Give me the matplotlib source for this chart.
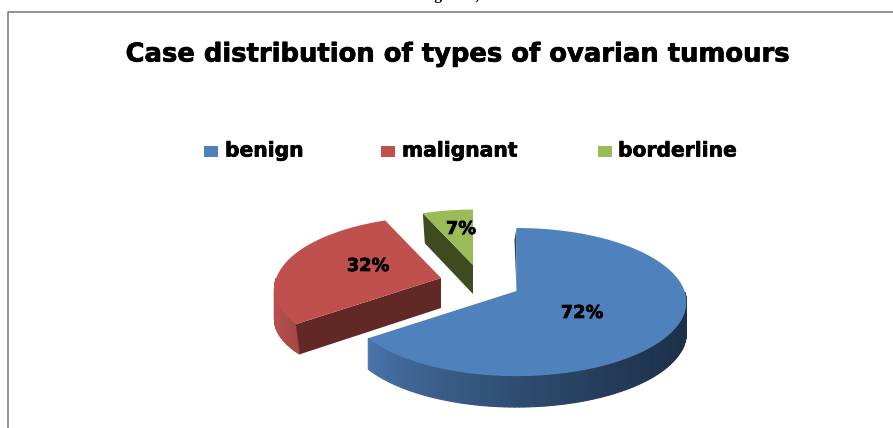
import numpy as np
import matplotlib
matplotlib.use("Agg")
import matplotlib.pyplot as plt
from matplotlib.patches import Polygon, Rectangle
from matplotlib.colors import to_rgb
import matplotlib.patheffects as pe

title = "Case distribution of types of ovarian tumours"
categories = ["benign", "malignant", "borderline"]
values = [72, 32, 7]
labels = ["72%", "32%", "7%"]

colors = ["#4f81bd", "#c0504d", "#9bbb59"]
cut_colors = ["#24405f", "#622826", "#3e4a20"]
side_from = ["#4a76ac", "#b5504e", "#3e4a20"]
side_to = ["#1c3048", "#a54744", "#3e4a20"]
apex = [(516.5, 291), (441, 278), (473, 265)]
scale = [1.0, 0.98, 0.88]
depth = [31, 30, 29]
label_pos = [(582, 313), (368, 266), (461, 229)]
legend_x = [204, 381, 598]
legend_text_x = [225, 402, 618]

RX, RY, P = 168, 72.4, 0.149

fig = plt.figure(figsize=(8.93, 4.28), dpi=100)
ax = fig.add_axes([0, 0, 1, 1])
ax.set_xlim(0, 893)
ax.set_ylim(428, 0)
ax.axis("off")

heavy = [pe.withStroke(linewidth=0.5, foreground="black")]


def project(t_deg, center, s):
    t = np.radians(t_deg)
    u, v = np.sin(t), -np.cos(t)
    w = 1 - P * v
    return np.column_stack((center[0] + s * RX * u / w, center[1] + s * RY * v / w))


# frame: left and top rules only
ax.plot([8, 8, 893], [428, 12, 12], color="#808080", lw=1.2)
ax.text(421, -0.5, "Figure 3,", ha="left", va="baseline", fontsize=11,
        family="Liberation Serif", weight="bold", clip_on=True)

ax.text(458, 54.5, title, ha="center", va="center", fontsize=18.6,
        family="DejaVu Sans", weight="bold", color="black", path_effects=heavy)

for i, name in enumerate(categories):
    ax.add_patch(Rectangle((legend_x[i], 146), 14, 11, fc=colors[i], ec="none"))
    ax.text(legend_text_x[i], 151, name, ha="left", va="center", fontsize=14.6,
            family="DejaVu Sans", weight="bold", color="black", path_effects=heavy)

# angles follow the values, clockwise from 12 o'clock
fractions = np.array(values) / sum(values) * 360
ends = np.cumsum(fractions)
starts = ends - fractions

for i in [2, 1, 0]:
    c, s, d = apex[i], scale[i], depth[i]
    t0, t1 = starts[i], ends[i]
    ts = np.linspace(t0, t1, 160)
    arc = project(ts, c, s)
    # outer rim, shaded along the arc
    c0, c1 = np.array(to_rgb(side_from[i])), np.array(to_rgb(side_to[i]))
    rim = [k for k in range(len(ts) - 1) if 90 <= ts[k] <= 270]
    if rim:
        lo = arc[[rim[0], rim[-1]], 0].min()
        hi = arc[[rim[0], rim[-1]], 0].max()
        for k in rim:
            a, b = arc[k], arc[k + 1]
            f = np.clip((a[0] - lo) / (hi - lo + 1e-9), 0, 1)
            fb = np.clip((b[0] - lo) / (hi - lo + 1e-9), 0, 1)
            shift_a = shift_b = 0.0
            if i == 1:
                shift_a, shift_b = 4 * f, 4 * fb
                g = f
            else:
                g = f ** 0.7
            col = c0 * (1 - g) + c1 * g
            ax.add_patch(Polygon([a, b, (b[0] + shift_b, b[1] + d),
                                  (a[0] + shift_a, a[1] + d)],
                                 fc=col, ec=col, lw=0.8))
    # cut faces
    p = arc[0]
    if i == 0:
        ax.add_patch(Polygon([c, p, (p[0] - 2, p[1] + 12), (c[0], c[1])],
                             fc=cut_colors[i], ec="none"))
    elif i == 1:
        ax.add_patch(Polygon([c, p, (p[0] + 4, p[1] + d), (c[0], c[1] + d)],
                             fc=cut_colors[i], ec="none"))
    else:
        ax.add_patch(Polygon([c, p, (p[0] + 2, p[1] + d + 1), (c[0], c[1] + d)],
                             fc=cut_colors[i], ec="none"))
    # top face
    ax.add_patch(Polygon(np.vstack(([c], arc)), fc=colors[i], ec="none"))

for (x, y), lab in zip(label_pos, labels):
    ax.text(x, y, lab, ha="center", va="center", fontsize=12.8,
            family="DejaVu Sans", weight="bold", color="black", path_effects=heavy)

fig.savefig("out.png", dpi=100, facecolor="white")
